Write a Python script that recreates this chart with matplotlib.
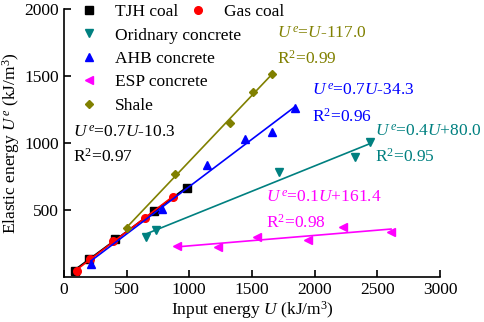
import numpy as np
import matplotlib
matplotlib.use('Agg')
import matplotlib.pyplot as plt

plt.rcParams['font.family'] = 'Liberation Serif'
plt.rcParams['mathtext.fontset'] = 'custom'
plt.rcParams['mathtext.rm'] = 'Liberation Serif'
plt.rcParams['mathtext.it'] = 'Liberation Serif:italic'

# Input energy U and elastic energy Ue for each material (kJ/m^3)
tjh_u = [88, 200, 407, 718, 982]
tjh_ue = [45, 132, 284, 493, 664]
gas_u = [104, 207, 391, 646, 870]
gas_ue = [45, 134, 269, 440, 597]
ord_u = [654, 734, 1716, 2322, 2442]
ord_ue = [298, 351, 784, 896, 1008]
ahb_u = [215, 782, 1141, 1444, 1660, 1844]
ahb_ue = [97, 507, 836, 1030, 1082, 1261]
esp_u = [902, 1229, 1540, 1947, 2227, 2610]
esp_ue = [231, 224, 299, 276, 373, 336]
shale_u = [503, 886, 1325, 1508, 1660]
shale_ue = [366, 769, 1149, 1381, 1515]

fig = plt.figure(figsize=(4.84, 3.22), dpi=100)
ax = fig.add_axes([0.132, 0.140, 0.777, 0.832])

series = [
    (tjh_u, tjh_ue, 'TJH coal', 's', 'black'),
    (gas_u, gas_ue, 'Gas coal', 'o', 'red'),
    (ord_u, ord_ue, 'Oridnary concrete', 'v', '#008080'),
    (ahb_u, ahb_ue, 'AHB concrete', '^', 'blue'),
    (esp_u, esp_ue, 'ESP concrete', '<', '#ff00ff'),
    (shale_u, shale_ue, 'Shale', 'D', '#808000'),
]

handles = {}
for u, ue, name, mk, col in series:
    k, b = np.polyfit(u, ue, 1)
    xs = np.array([min(u), max(u)])
    ax.plot(xs, k * xs + b, color=col, lw=1.2)
    ms = 4.5 if mk == 'D' else 5.5
    h, = ax.plot(u, ue, linestyle='none', marker=mk, color=col, ms=ms, label=name)
    handles[name] = h

names1 = ['TJH coal', 'Oridnary concrete', 'AHB concrete', 'ESP concrete', 'Shale']
leg1 = ax.legend([handles[n] for n in names1], names1, loc='upper left',
                 bbox_to_anchor=(0.02, 1.045), frameon=False, fontsize=12.5,
                 handlelength=1.2, handletextpad=0.9, labelspacing=0.42, borderaxespad=0)
ax.add_artist(leg1)
ax.legend([handles['Gas coal']], ['Gas coal'], loc='upper left',
          bbox_to_anchor=(0.31, 1.045), frameon=False, fontsize=12.5,
          handlelength=1.2, handletextpad=0.9, borderaxespad=0)

fs = 12.5
ax.text(75, 1050, r'$U^{\,e}$=0.7$U$-10.3', color='black', fontsize=fs)
ax.text(75, 860, r'R$^2$=0.97', color='black', fontsize=fs)
ax.text(1700, 1790, r'$U^{\,e}$=$U$-117.0', color='#808000', fontsize=fs)
ax.text(1700, 1590, r'R$^2$=0.99', color='#808000', fontsize=fs)
ax.text(1980, 1360, r'$U^{\,e}$=0.7$U$-34.3', color='blue', fontsize=fs)
ax.text(1980, 1160, r'R$^2$=0.96', color='blue', fontsize=fs)
ax.text(2480, 1055, r'$U^{\,e}$=0.4$U$+80.0', color='#008080', fontsize=fs)
ax.text(2480, 860, r'R$^2$=0.95', color='#008080', fontsize=fs)
ax.text(1610, 565, r'$U^{\,e}$=0.1$U$+161.4', color='#ff00ff', fontsize=fs)
ax.text(1610, 370, r'R$^2$=0.98', color='#ff00ff', fontsize=fs)

ax.set_xlim(0, 3000)
ax.set_ylim(0, 2000)
ax.set_xticks([0, 500, 1000, 1500, 2000, 2500, 3000])
ax.set_yticks([500, 1000, 1500, 2000])
ax.tick_params(direction='in', length=5, width=1.2, labelsize=12.5)
for s in ['top', 'right']:
    ax.spines[s].set_visible(False)
for s in ['left', 'bottom']:
    ax.spines[s].set_linewidth(1.2)

ax.set_xlabel(r'Input energy $U$ (kJ/m$^3$)', fontsize=12.5, labelpad=1)
ax.set_ylabel(r'Elastic energy $U^{\,e}$ (kJ/m$^3$)', fontsize=12.5, labelpad=2)

fig.savefig('out.png', dpi=100)
